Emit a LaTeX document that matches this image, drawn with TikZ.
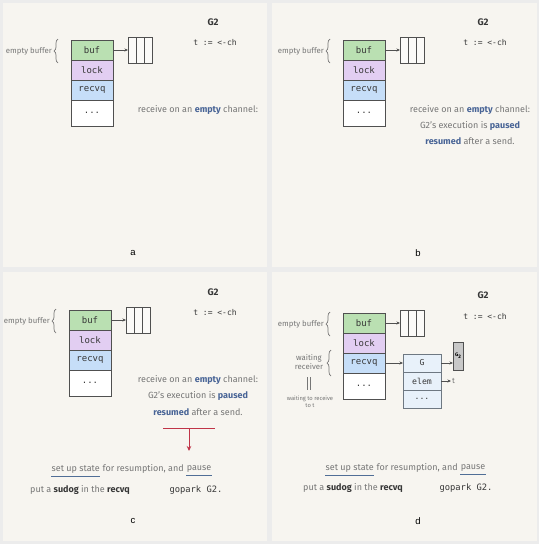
\documentclass[tikz,border=0pt]{standalone}
\usepackage{fontspec}
\setmainfont{Fira Sans}
\setmonofont{DejaVu Sans Mono}
\newfontfamily\capfont{Liberation Sans}
\usetikzlibrary{arrows.meta,positioning,calc,decorations.pathreplacing}
\definecolor{outerbg}{RGB}{236,236,236}
\definecolor{panelbg}{RGB}{247,245,240}
\definecolor{cellline}{RGB}{80,80,80}
\definecolor{bufgreen}{RGB}{186,224,178}
\definecolor{lockpurple}{RGB}{226,206,242}
\definecolor{recvblue}{RGB}{198,222,248}
\definecolor{sudogfill}{RGB}{232,241,250}
\definecolor{sudogline}{RGB}{110,120,130}
\definecolor{gboxfill}{RGB}{200,200,200}
\definecolor{notegray}{RGB}{118,118,118}
\definecolor{codegray}{RGB}{55,55,55}
\definecolor{hlblue}{RGB}{72,100,150}
\definecolor{ulblue}{RGB}{80,110,150}
\definecolor{redarrow}{RGB}{192,52,72}
\newcommand{\emword}[1]{\textcolor{hlblue}{\bfseries #1}}
\newcommand{\keyword}[1]{\textcolor{codegray}{\bfseries #1}}
\tikzset{
  cell/.style={draw=cellline, line width=0.8pt, minimum width=42pt, minimum height=20pt,
    inner sep=0pt, outer sep=0pt, text=codegray, font=\ttfamily\fontsize{9}{9}\selectfont},
  slot/.style={draw=cellline, line width=0.8pt, fill=white!50!panelbg, minimum width=8pt,
    minimum height=26pt, inner sep=0pt, outer sep=0pt},
  sgcell/.style={draw=sudogline, line width=0.7pt, fill=sudogfill, minimum width=38pt,
    minimum height=18pt, inner sep=0pt, outer sep=0pt, text=codegray,
    font=\ttfamily\fontsize{8.2}{8}\selectfont},
  gbox/.style={draw=cellline, line width=0.7pt, fill=gboxfill, minimum width=10pt,
    minimum height=28pt, inner sep=0pt, font=\fontsize{5}{5}\selectfont\bfseries},
  ptr/.style={-{Stealth[length=3.5pt,width=3pt]}, line width=0.8pt, cellline},
  brace/.style={decorate, decoration={brace, amplitude=4pt}, line width=0.7pt, notegray},
  note/.style={text=notegray, inner sep=1pt, font=\fontsize{7.8}{8.5}\selectfont},
  tinynote/.style={text=notegray, inner sep=0pt, align=center, font=\fontsize{5.8}{7}\selectfont},
  prose/.style={text=notegray, inner sep=0.5pt, font=\fontsize{9}{10}\selectfont},
  title/.style={text=codegray, font=\fontsize{9.5}{10}\selectfont\bfseries},
  code/.style={text=codegray, font=\ttfamily\fontsize{8}{9}\selectfont},
  bigcode/.style={text=codegray, font=\ttfamily\fontsize{8.8}{10}\selectfont},
  caption/.style={text=black, font=\capfont\fontsize{9.5}{10}\selectfont},
  uline/.style={ulblue, line width=0.9pt},
  redbar/.style={redarrow, line width=1pt},
  redarr/.style={-{Stealth[length=5pt,width=4.5pt]}, redarrow, line width=1pt}
}
% channel struct with its buffer, #1 = name prefix, #2 = top left corner
\newcommand{\chanbox}[2]{%
  \node[cell, fill=bufgreen, anchor=north west] (#1buf) at (#2) {buf};
  \node[cell, fill=lockpurple, below=0pt of #1buf] (#1lock) {lock};
  \node[cell, fill=recvblue, below=0pt of #1lock] (#1recvq) {recvq};
  \node[cell, fill=white, minimum height=26pt, below=0pt of #1recvq] (#1more) {...};
  \node[slot, right=15pt of #1buf] (#1slotA) {};
  \node[slot, right=0pt of #1slotA] (#1slotB) {};
  \node[slot, right=0pt of #1slotB] (#1slotC) {};
  \draw[ptr] (#1buf) -- (#1slotA);
  \draw[brace] ([xshift=-13pt,yshift=-3pt]#1buf.south west) -- ([xshift=-13pt,yshift=1pt]#1buf.north west);
  \coordinate (#1brace) at ([xshift=-18pt,yshift=-1pt]#1buf.west);
  \node[note, anchor=east] (#1empty) at (#1brace) {empty buffer};
}
\begin{document}
\begin{tikzpicture}[x=1pt,y=-1pt]
  \useasboundingbox (0,0) rectangle (539,544);
  \fill[outerbg] (0,0) rectangle (539,544);
  \fill[panelbg] (3,3) rectangle (267,267);
  \fill[panelbg] (272,3) rectangle (537,267);
  \fill[panelbg] (3,272) rectangle (267,541);
  \fill[panelbg] (272,272) rectangle (537,541);

  % panel a
  \chanbox{a}{71,40}
  \node[title] (atitle) at (213,22) {G2};
  \node[code] (acode) at (215,43) {t := <-ch};
  \node[prose] (arecv) at (198,110) {receive on an \emword{empty} channel:};
  \node[caption] (acap) at (133,253) {a};

  % panel b
  \chanbox{b}{343,40}
  \node[title] (btitle) at (483,22) {G2};
  \node[code] (bcode) at (485,43) {t := <-ch};
  \node[prose] (brecv) at (470,110) {receive on an \emword{empty} channel:};
  \node[prose] (bpaused) at (470,126) {G2's execution is \emword{paused}};
  \node[prose] (bresumed) at (470,141) {\emword{resumed} after a send.};
  \node[caption] (bcap) at (418,253) {b};

  % panel c
  \chanbox{c}{69,310}
  \node[title] (ctitle) at (213,292) {G2};
  \node[code] (ccode) at (215,313) {t := <-ch};
  \node[prose] (crecv) at (198,380) {receive on an \emword{empty} channel:};
  \node[prose] (cpaused) at (198,396) {G2's execution is \emword{paused}};
  \node[prose] (cresumed) at (198,412) {\emword{resumed} after a send.};
  \coordinate (cbarL) at (163,428);
  \coordinate (cbarR) at (215,428);
  \coordinate (cbarM) at (189,428);
  \coordinate (ctip) at (189,451);
  \draw[redbar] (cbarL) -- (cbarR);
  \draw[redarr] (cbarM) -- (ctip);
  \node[prose, anchor=west] (csetup) at (51,469) {set up state};
  \node[prose, right=1.6pt of csetup] (cfor) {for resumption, and};
  \node[prose, right=1.6pt of cfor] (cpause) {pause};
  \draw[uline] ([yshift=-2.5pt]csetup.south west) -- ([yshift=-2.5pt]csetup.south east);
  \draw[uline] ([yshift=-2.5pt]cpause.south west) -- ([yshift=-2.5pt]cpause.south east);
  \node[prose] (csudog) at (80,490) {put a \keyword{sudog} in the \keyword{recvq}};
  \node[bigcode] (cgopark) at (196,490) {gopark G2.};
  \node[caption] (ccap) at (133,521) {c};

  % panel d
  \chanbox{d}{343,313}
  \node[title] (dtitle) at (483,295) {G2};
  \node[code] (dcode) at (485,317) {t := <-ch};
  \draw[brace] ([xshift=-12pt,yshift=-3pt]drecvq.south west) -- ([xshift=-12pt,yshift=3pt]drecvq.north west);
  \node[note, align=center] (dwaiting) at (309,362) {waiting\\[1pt]receiver};
  \draw[notegray, line width=0.5pt] (307.5,377) -- (307.5,390) (310.5,377) -- (310.5,390);
  \node[tinynote] (dreceive) at (310,402) {waiting to receive\\to t};
  \node[sgcell, right=18pt of drecvq] (dsg) {G};
  \node[sgcell, below=0pt of dsg] (delem) {elem};
  \node[sgcell, below=0pt of delem] (dsgmore) {...};
  \draw[ptr] (drecvq) -- (dsg);
  \node[gbox, right=12pt of dsg, yshift=7pt] (dgtwo) {G\textsubscript{2}};
  \draw[ptr] (dsg.east) -- (dsg.east -| dgtwo.west);
  \node[note, right=10pt of delem] (dt) {t};
  \draw[ptr] (delem) -- (dt);
  \node[prose, anchor=west] (dsetup) at (325,468) {set up state};
  \node[prose, right=1.6pt of dsetup] (dfor) {for resumption, and};
  \node[prose, right=1.6pt of dfor] (dpause) {pause};
  \draw[uline] ([yshift=-2.5pt]dsetup.south west) -- ([yshift=-2.5pt]dsetup.south east);
  \draw[uline] ([yshift=-2.5pt]dpause.south west) -- ([yshift=-2.5pt]dpause.south east);
  \node[prose] (dsudog) at (353,488) {put a \keyword{sudog} in the \keyword{recvq}};
  \node[bigcode] (dgopark) at (466,488) {gopark G2.};
  \node[caption] (dcap) at (418,521) {d};
\end{tikzpicture}
\end{document}
